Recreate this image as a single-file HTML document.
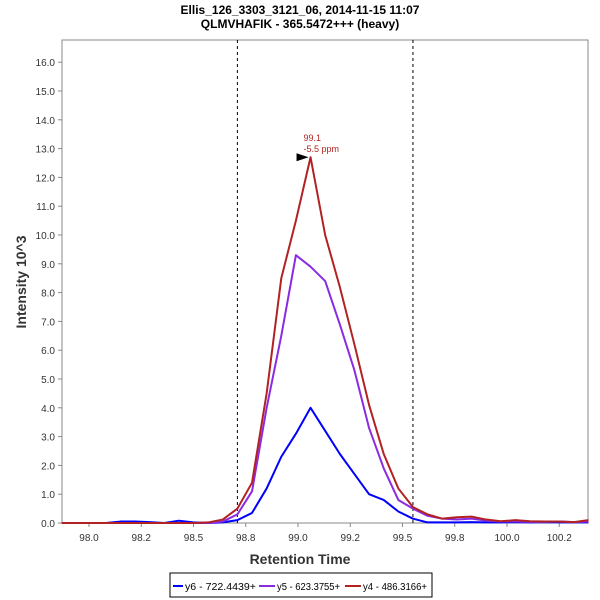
<!DOCTYPE html>
<html><head><meta charset="utf-8"><style>
body{margin:0;background:#fff;font-family:"Liberation Sans",sans-serif}
svg{display:block}
</style></head><body>
<svg id="c" width="600" height="600" xmlns="http://www.w3.org/2000/svg">
<rect width="600" height="600" fill="#fff"/>
<text x="300" y="14" text-anchor="middle" font-size="12" font-weight="bold">Ellis_126_3303_3121_06, 2014-11-15 11:07</text>
<text x="300" y="28" text-anchor="middle" font-size="12" font-weight="bold">QLMVHAFIK - 365.5472+++ (heavy)</text>
<rect x="62" y="40" width="526" height="483" fill="#fff" stroke="#888"/>
<g id="yt"></g><g id="xt"></g><g id="series"></g>
<text x="300" y="564" text-anchor="middle" font-size="14" font-weight="bold" fill="#333">Retention Time</text>
<text transform="translate(26,282) rotate(-90)" text-anchor="middle" font-size="14" font-weight="bold" fill="#333">Intensity 10^3</text>
<g>
<rect x="170" y="573" width="262" height="24" fill="#fff" stroke="#000"/>
<g><line x1="173" y1="586" x2="183" y2="586" stroke="#0000ff" stroke-width="2"/><text x="185" y="590" font-size="10" textLength="71" lengthAdjust="spacingAndGlyphs">y6 - 722.4439+</text></g>
<g><line x1="259" y1="586" x2="275" y2="586" stroke="#8a2be2" stroke-width="2"/><text x="277" y="590" font-size="10" textLength="63" lengthAdjust="spacingAndGlyphs">y5 - 623.3755+</text></g>
<g><line x1="345" y1="586" x2="361" y2="586" stroke="#b22222" stroke-width="2"/><text x="363" y="590" font-size="10" textLength="64" lengthAdjust="spacingAndGlyphs">y4 - 486.3166+</text></g>
</g>
</svg>
<script>
const times=[97.87,97.94,98.01,98.08,98.15,98.22,98.29,98.36,98.43,98.50,98.57,98.64,98.71,98.78,98.85,98.92,98.99,99.06,99.13,99.20,99.27,99.34,99.41,99.48,99.55,99.62,99.69,99.76,99.83,99.90,99.97,100.04,100.11,100.18,100.25,100.32,100.39];
const y6=[0,0,0,0,0.05,0.05,0.03,0,0.08,0.02,0,0.02,0.1,0.35,1.2,2.3,3.1,4.0,3.2,2.4,1.7,1.0,0.8,0.4,0.15,0.02,0.02,0.02,0.03,0.02,0.02,0.03,0.02,0.03,0.02,0.02,0.02];
const y5=[0,0,0,0,0,0,0,0,0,0,0,0.05,0.3,1.1,4.0,6.5,9.3,8.9,8.4,6.9,5.3,3.3,1.9,0.8,0.5,0.25,0.15,0.12,0.15,0.08,0.05,0.05,0.04,0.04,0.05,0.03,0.05];
const y4=[0,0,0,0,0,0,0,0,0,0,0.02,0.12,0.5,1.4,4.5,8.5,10.5,12.7,10.0,8.2,6.2,4.1,2.4,1.2,0.55,0.3,0.15,0.2,0.22,0.12,0.06,0.1,0.06,0.05,0.05,0.03,0.1];
const yTicks=[0,1,2,3,4,5,6,7,8,9,10,11,12,13,14,15,16];
const xTicks=[98.0,98.25,98.5,98.75,99.0,99.25,99.5,99.75,100.0,100.25];
const xLabels=["98.0","98.2","98.5","98.8","99.0","99.2","99.5","99.8","100.0","100.2"];
const boundaries=[98.71,99.55];
const NS="http://www.w3.org/2000/svg";
const sx=t=>298+(t-99.0)*209;
const sy=v=>523-v*28.8;
function mk(tag,attrs,parent){const e=document.createElementNS(NS,tag);for(const k in attrs)e.setAttribute(k,attrs[k]);parent.appendChild(e);return e;}
const yt=document.getElementById('yt'),xt=document.getElementById('xt'),sg=document.getElementById('series');
yTicks.forEach(v=>{
 const l=mk('line',{x1:58,x2:62,y1:sy(v),y2:sy(v),stroke:'#888'},yt);
 
 
 const t=mk('text',{x:55,y:sy(v)+4,'text-anchor':'end','font-size':10,fill:'#333'},yt);
 t.textContent=v.toFixed(1);
 
 
});
xTicks.forEach((v,i)=>{
 const l=mk('line',{x1:sx(v),x2:sx(v),y1:523,y2:527,stroke:'#888'},xt);
 
 
 const t=mk('text',{x:sx(v),y:541,'text-anchor':'middle','font-size':10,fill:'#333'},xt);
 t.textContent=xLabels[i];
 
 
});
boundaries.forEach(b=>{
 const l=mk('line',{x1:sx(b),x2:sx(b),y1:40,y2:523,stroke:'#000','stroke-dasharray':'3,3','stroke-width':1},sg);
 
 
});
[[y6,'#0000ff','series-y6'],[y5,'#8a2be2','series-y5'],[y4,'#b22222','series-y4']].forEach(([d,c,n])=>{
 const p=mk('polyline',{points:d.map((v,i)=>sx(times[i])+','+sy(v)).join(' '),fill:'none',stroke:c,'stroke-width':2,'stroke-linejoin':'round'},sg);
 
 
});
let pi=0;y4.forEach((v,i)=>{if(v>y4[pi])pi=i;});
const px=sx(times[pi]),py=sy(y4[pi]);
const a=mk('polygon',{points:`${px-14},${py-4} ${px-14},${py+4} ${px-2},${py}`,fill:'#000'},sg);


const t1=mk('text',{x:px-7,y:py-16,'font-size':9,fill:'#b22222'},sg);
t1.textContent=times[pi].toFixed(1);


const t2=mk('text',{x:px-7,y:py-5,'font-size':9,fill:'#b22222'},sg);
t2.textContent='-5.5 ppm';


</script>
</body></html>
